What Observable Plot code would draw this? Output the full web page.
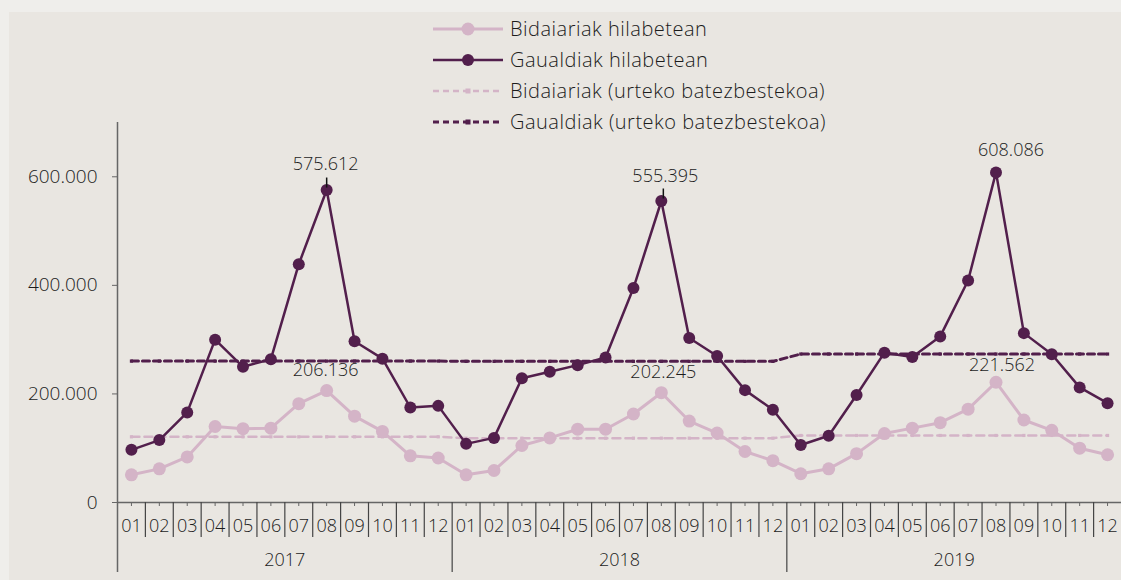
<!DOCTYPE html>
<html><head><meta charset="utf-8">
<script src="https://cdn.jsdelivr.net/npm/d3@7"></script>
<script src="https://cdn.jsdelivr.net/npm/@observablehq/plot@0.6"></script>
<style>
html,body{margin:0;padding:0;background:#efeeeb;}
#wrap{position:relative;width:1121px;height:580px;overflow:hidden;font-family:"Open Sans","Noto Sans",sans-serif;font-weight:300;color:#1c1c1c;}
#panel{position:absolute;left:9px;top:12px;right:0;bottom:0;background:#e9e6e1;}
#chart{position:absolute;left:0;top:0;}
#legend{position:absolute;left:433px;top:13px;}
.item{display:flex;align-items:center;height:31px;font-size:20px;letter-spacing:0.5px;white-space:nowrap;}
.item svg{margin-right:7px;flex:none;}
#chart text{font-weight:300;}
</style></head><body>
<div id="wrap"><div id="panel"></div><div id="chart"></div><div id="legend"></div></div>
<script>
const years = ["2017", "2018", "2019"];
const months = ["01","02","03","04","05","06","07","08","09","10","11","12"];
const bidaiariak = [
  51000, 62000, 84000, 140000, 136000, 137000, 182000, 206136, 159000, 131000, 86000, 82000,
  51000, 59000, 105000, 119000, 135000, 135000, 163000, 202245, 150000, 128000, 94000, 77000,
  53000, 62000, 90000, 127000, 137000, 147000, 172000, 221562, 152000, 133000, 100000, 88000
];
const gaualdiak = [
  97000, 115000, 166000, 300000, 250000, 264000, 439000, 575612, 297000, 265000, 175000, 178000,
  108000, 119000, 229000, 241000, 253000, 267000, 395000, 555395, 303000, 270000, 207000, 171000,
  106000, 123000, 198000, 276000, 268000, 306000, 409000, 608086, 312000, 273000, 212000, 183000
];
const bidaiariakAvg = [121000, 118500, 123500];
const gaualdiakAvg = [260500, 260000, 273500];
const seriesNames = ["Bidaiariak hilabetean", "Gaualdiak hilabetean", "Bidaiariak (urteko batezbestekoa)", "Gaualdiak (urteko batezbestekoa)"];
const yTicks = [0, 200000, 400000, 600000];

const LIGHT = "#d4b4c7", DARK = "#521f4c", TXT = "#1c1c1c", AX = "#666666";

const rows = [];
years.forEach((yr, yi) => months.forEach((m, mi) => {
  const i = yi * 12 + mi;
  rows.push({key: yr + "-" + m, year: yr, month: m, bid: bidaiariak[i], gau: gaualdiak[i], bidAvg: bidaiariakAvg[yi], gauAvg: gaualdiakAvg[yi]});
}));
const keys = rows.map(d => d.key);
const fmt = d3.formatLocale({decimal: ",", thousands: ".", grouping: [3], currency: ["", ""]}).format(",");

const W = 1121, H = 580, ML = 117, MR = 0, MT = 122, MB = 78;
const bw = (W - ML - MR) / keys.length;
const pick = k => rows.filter(d => d.key === k);
const yearStarts = years.map(y => y + "-01");
const FS = 18;

const chart = Plot.plot({
  width: W, height: H, marginLeft: ML, marginRight: MR, marginTop: MT, marginBottom: MB,
  style: {background: "transparent", fontFamily: "'Open Sans', 'Noto Sans', sans-serif", fontSize: FS + "px", color: TXT, overflow: "visible"},
  x: {type: "band", domain: keys, padding: 0, axis: null},
  y: {domain: [0, 700000], axis: null},
  marks: [
    // axes
    Plot.ruleY([0], {stroke: AX, strokeWidth: 1.5}),
    Plot.ruleX(yearStarts.slice(0, 1), {x: d => d, dx: -bw / 2, y1: 700000, y2: 0, insetBottom: -70, stroke: AX, strokeWidth: 1.5}),
    Plot.ruleX(yearStarts.slice(1), {x: d => d, dx: -bw / 2, y1: 0, y2: 0, insetBottom: -70, stroke: "#444", strokeWidth: 1.2}),
    Plot.ruleX(keys.filter(k => !yearStarts.includes(k)), {x: d => d, dx: -bw / 2, y1: 0, y2: 0, insetBottom: -35, stroke: "#444", strokeWidth: 1.2}),
    Plot.ruleX(keys, {x: d => d, y1: 0, y2: 0, insetBottom: -4, stroke: AX, strokeWidth: 1}),
    Plot.axisY({ticks: yTicks, tickFormat: fmt, tickSize: 5, tickPadding: 15, fontSize: 19, stroke: AX, fill: TXT, style: {letterSpacing: "0.3px"}}),
    Plot.text(rows, {x: "key", y: 0, text: "month", dy: 24, fontSize: 18, fill: TXT}),
    Plot.text(years, {x: d => d + "-06", y: 0, text: d => d, dx: bw / 2, dy: 58, fontSize: 18, fill: TXT}),
    // annual averages
    Plot.line(rows, {x: "key", y: "bidAvg", stroke: LIGHT, strokeWidth: 2.5, strokeDasharray: "8,5"}),
    Plot.dot(rows, {x: "key", y: "bidAvg", symbol: "square", r: 1.8, fill: LIGHT}),
    Plot.line(rows, {x: "key", y: "gauAvg", stroke: DARK, strokeWidth: 3, strokeDasharray: "7,4"}),
    Plot.dot(rows, {x: "key", y: "gauAvg", symbol: "square", r: 1.8, fill: DARK}),
    // monthly series
    Plot.line(rows, {x: "key", y: "bid", stroke: LIGHT, strokeWidth: 3}),
    Plot.dot(rows, {x: "key", y: "bid", r: 6.5, fill: LIGHT}),
    Plot.line(rows, {x: "key", y: "gau", stroke: DARK, strokeWidth: 2.5}),
    Plot.dot(rows, {x: "key", y: "gau", r: 6, fill: DARK}),
    // leader lines
    Plot.ruleX(pick("2017-08"), {x: "key", y1: "gau", y2: "gau", insetTop: -12, insetBottom: 2, dx: 0, stroke: "#111", strokeWidth: 1.5}),
    Plot.ruleX(pick("2018-08"), {x: "key", y1: "gau", y2: "gau", insetTop: -12, insetBottom: 2, dx: 2, stroke: "#111", strokeWidth: 1.5}),
    // value labels
    Plot.text(pick("2017-08"), {x: "key", y: "gau", text: d => fmt(d.gau), dx: -1, dy: -26, fontSize: FS, fill: TXT}),
    Plot.text(pick("2018-08"), {x: "key", y: "gau", text: d => fmt(d.gau), dx: 4, dy: -25, fontSize: FS, fill: TXT}),
    Plot.text(pick("2019-08"), {x: "key", y: "gau", text: d => fmt(d.gau), dx: 15, dy: -22, fontSize: FS, fill: TXT}),
    Plot.text(pick("2017-08"), {x: "key", y: "bid", text: d => fmt(d.bid), dx: -1, dy: -20, fontSize: FS, fill: TXT}),
    Plot.text(pick("2018-08"), {x: "key", y: "bid", text: d => fmt(d.bid), dx: 2, dy: -20, fontSize: FS, fill: TXT}),
    Plot.text(pick("2019-08"), {x: "key", y: "bid", text: d => fmt(d.bid), dx: 6, dy: -17, fontSize: FS, fill: TXT})
  ]
});
document.getElementById("chart").appendChild(chart);

// legend
const legendStyles = [
  {color: LIGHT, dash: null, width: 3, marker: "circle", r: 6.5},
  {color: DARK, dash: null, width: 2.5, marker: "circle", r: 6},
  {color: LIGHT, dash: "6,4", width: 2.5, marker: "square", r: 2.5},
  {color: DARK, dash: "6,4", width: 3, marker: "square", r: 2.5}
];
const legend = d3.select("#legend");
seriesNames.forEach((name, i) => {
  const s = legendStyles[i];
  const item = legend.append("div").attr("class", "item");
  const svg = item.append("svg").attr("width", 70).attr("height", 20);
  svg.append("line").attr("x1", 0).attr("x2", 70).attr("y1", 10).attr("y2", 10)
    .attr("stroke", s.color).attr("stroke-width", s.width).attr("stroke-dasharray", s.dash);
  if (s.marker === "circle") svg.append("circle").attr("cx", 35).attr("cy", 10).attr("r", s.r).attr("fill", s.color);
  else svg.append("rect").attr("x", 35 - s.r).attr("y", 10 - s.r).attr("width", 2 * s.r).attr("height", 2 * s.r).attr("fill", s.color);
  item.append("span").text(name);
});
</script>
</body></html>
